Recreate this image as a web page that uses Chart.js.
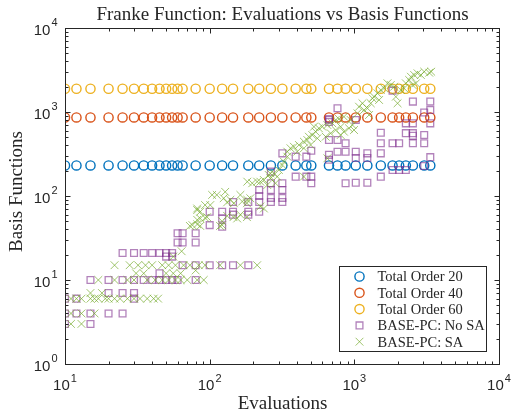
<!DOCTYPE html>
<html>
<head>
<meta charset="utf-8">
<script src="https://cdn.jsdelivr.net/npm/chart.js@4.4.0/dist/chart.umd.min.js"></script>
<style>
  html, body { margin: 0; padding: 0; background: #fff; }
  #wrap { width: 514px; height: 419px; position: relative; }
</style>
</head>
<body>
<div id="wrap"><canvas id="frankeChart"></canvas></div>
<script>
// evaluation counts used by the total order runs
const evaluations = [10, 12, 15, 20, 25, 30, 35, 40, 45, 50, 55, 60, 65, 80, 100, 122, 145, 185, 220, 265,
  318, 393, 466, 504, 668, 765, 870, 1023, 1230, 1524, 1837, 2040, 2270, 2540, 3040, 3350];

const orderLabels = ['Total Order 20', 'Total Order 40', 'Total Order 60'];
const orderBasis = [231, 861, 1891];

// [evaluations, basis functions]
const noSaPoints = [
  [10, 3], [15, 3],
  [10, 4], [12, 4], [15, 4], [20, 4], [25, 4],
  [10, 6], [12, 6], [30, 6],
  [20, 7], [25, 7], [30, 7],
  [15, 10], [20, 10], [25, 10], [30, 10], [35, 10], [40, 10], [45, 10], [50, 10], [55, 10], [60, 10], [80, 10],
  [45, 12], [50, 19], [55, 19],
  [25, 21], [30, 21], [35, 21], [40, 21], [45, 21], [50, 21], [55, 21],
  [60, 28], [65, 28], [80, 28], [60, 36], [65, 36], [80, 36],
  [65, 15], [80, 15], [100, 15], [122, 15], [145, 15], [185, 15],
  [100, 45], [122, 43], [122, 54],
  [100, 65], [122, 65], [145, 65], [145, 60], [185, 65], [185, 60], [220, 65],
  [145, 85], [185, 85], [220, 85], [265, 85], [318, 85],
  [220, 100], [265, 95], [318, 95],
  [220, 118], [265, 118], [318, 118], [265, 142], [318, 142], [265, 195],
  [393, 170], [466, 170], [504, 170], [504, 142],
  [318, 322], [393, 294], [466, 294], [504, 345],
  [668, 826], [668, 760], [668, 464], [765, 464], [668, 309], [668, 270],
  [765, 337], [870, 337], [1023, 337], [1230, 322], [870, 424],
  [870, 142], [1023, 144], [1230, 144],
  [765, 1106], [668, 804], [1023, 804],
  [1524, 567], [1524, 424], [1524, 322], [1524, 170],
  [1837, 424], [2040, 424], [2540, 424], [3040, 424],
  [2270, 733], [2540, 733], [3350, 733],
  [2270, 560], [2540, 560], [2540, 520], [3040, 533],
  [1837, 1795], [2540, 1330], [3350, 1330], [3350, 1057], [3040, 985],
  [1023, 283], [1230, 283], [3350, 290], [3040, 228],
  [1837, 204], [2040, 204], [2270, 204]
];

const saPoints = [
  [11, 3], [13, 3],
  [11, 4], [13, 4], [16, 4],
  [11, 6], [12, 6], [13, 6], [15, 6], [16, 6], [17, 6], [19, 6], [20, 6], [22, 6], [24, 6], [27, 6],
  [30, 6], [33, 6], [37, 6], [41, 6], [44, 6],
  [15, 7], [18, 7],
  [17, 10], [22, 10], [27, 10], [30, 10], [37, 10], [42, 10], [47, 10], [52, 10], [58, 10], [63, 10],
  [70, 10], [82, 10], [91, 10],
  [31, 12], [35, 12], [50, 12], [56, 12], [63, 12], [80, 13],
  [22, 15], [28, 15], [32, 15], [36, 15], [40, 15], [47, 15], [52, 15], [58, 15], [66, 15], [73, 15],
  [84, 15], [93, 15], [118, 15], [163, 15], [213, 15],
  [56, 19], [64, 22],
  [73, 44], [76, 45], [82, 46], [86, 44], [96, 56], [118, 44], [122, 45], [122, 50], [132, 58], [146, 56],
  [155, 54], [163, 60], [181, 56], [224, 75],
  [82, 52], [86, 54], [93, 55], [86, 65], [82, 68], [82, 71], [93, 78], [101, 78], [104, 103], [112, 103],
  [128, 112], [125, 94], [132, 84], [139, 90], [147, 82], [163, 103], [168, 86], [182, 90], [181, 82],
  [191, 94], [182, 148], [197, 142], [224, 148], [237, 71],
  [213, 148], [237, 155], [256, 178], [278, 186], [263, 162], [301, 204], [293, 170], [318, 234],
  [326, 256], [344, 337], [362, 370], [382, 386], [414, 405], [448, 443], [473, 464], [485, 508],
  [512, 532], [540, 583], [569, 640], [601, 668], [651, 700], [705, 733], [743, 803], [783, 826],
  [848, 879], [250, 135], [285, 142], [263, 186], [344, 294], [403, 337], [448, 370], [499, 405],
  [555, 486], [634, 508], [686, 558], [743, 610], [805, 668], [651, 281], [526, 668], [448, 170],
  [805, 532], [848, 583], [919, 640], [970, 700], [995, 610], [944, 803], [1051, 965], [1078, 1156],
  [1138, 1270], [1167, 1057], [1232, 1106], [1264, 921], [1299, 1270], [1335, 1455], [1369, 1521],
  [1445, 1670], [1483, 1390], [1524, 1828], [1607, 1915], [1695, 2196], [1786, 2096], [1884, 2000],
  [1936, 1521], [1990, 1270], [2097, 1828], [2209, 1915], [2270, 2196], [2393, 2404], [2460, 2630],
  [2593, 2757], [2735, 2888], [2884, 2757], [3041, 3018], [3294, 2937], [2665, 2196], [2527, 2096],
  [3400, 3018]
];

const xDecades = [1, 2, 3, 4];
const yDecades = [0, 1, 2, 3, 4];

const orderColors = ['#0072BD', '#D95319', '#EDB120'];
const AXIS = '#262626';
const SERIF = '"Liberation Serif", "Times New Roman", serif';

const datasets = orderLabels.map((label, i) => ({
  label: label,
  data: evaluations.map(e => ({ x: e, y: orderBasis[i] })),
  pointStyle: 'circle',
  pointRadius: 4.6,
  borderColor: orderColors[i],
  backgroundColor: 'rgba(0,0,0,0)',
  borderWidth: 1.4,
  order: 5 - i
}));

datasets.push({
  label: 'BASE-PC: No SA',
  data: noSaPoints.map(p => ({ x: p[0], y: p[1] })),
  pointStyle: 'rect',
  pointRadius: 4.8,
  borderColor: 'rgba(126, 47, 142, 0.6)',
  backgroundColor: 'rgba(0,0,0,0)',
  borderWidth: 1.3,
  order: 2
});

datasets.push({
  label: 'BASE-PC: SA',
  data: saPoints.map(p => ({ x: p[0], y: p[1] })),
  pointStyle: 'crossRot',
  pointRadius: 5.5,
  borderColor: 'rgba(119, 172, 48, 0.7)',
  backgroundColor: 'rgba(0,0,0,0)',
  borderWidth: 1,
  order: 1
});

function crisp(v) {
  return Math.round(v) + 0.5;
}

// box, inside ticks, 10^k labels, titles and legend in the MATLAB look
const matlabFrame = {
  id: 'matlabFrame',
  afterDraw(chart) {
    const { ctx, chartArea: a, scales } = chart;
    const x = scales.x, y = scales.y;
    const L = crisp(a.left), R = crisp(a.right), T = crisp(a.top), B = crisp(a.bottom);

    ctx.save();
    ctx.strokeStyle = AXIS;
    ctx.lineWidth = 1;
    ctx.strokeRect(L, T, R - L, B - T);

    ctx.beginPath();
    for (let d = xDecades[0]; d <= xDecades[xDecades.length - 1]; d++) {
      for (let m = 1; m <= 9; m++) {
        if (d === xDecades[xDecades.length - 1] && m > 1) break;
        const px = crisp(x.getPixelForValue(m * Math.pow(10, d)));
        const len = m === 1 ? 5 : 3;
        ctx.moveTo(px, B); ctx.lineTo(px, B - len);
        ctx.moveTo(px, T); ctx.lineTo(px, T + len);
      }
    }
    for (let d = yDecades[0]; d <= yDecades[yDecades.length - 1]; d++) {
      for (let m = 1; m <= 9; m++) {
        if (d === yDecades[yDecades.length - 1] && m > 1) break;
        const py = crisp(y.getPixelForValue(m * Math.pow(10, d)));
        const len = m === 1 ? 5 : 3;
        ctx.moveTo(L, py); ctx.lineTo(L + len, py);
        ctx.moveTo(R, py); ctx.lineTo(R - len, py);
      }
    }
    ctx.stroke();

    // tick labels
    ctx.fillStyle = AXIS;
    ctx.textBaseline = 'middle';
    const baseFont = '15px "Liberation Sans", Arial, sans-serif';
    const expFont = '11px "Liberation Sans", Arial, sans-serif';
    xDecades.forEach(d => {
      const px = x.getPixelForValue(Math.pow(10, d));
      ctx.font = baseFont;
      const w1 = ctx.measureText('10').width;
      ctx.font = expFont;
      const w2 = ctx.measureText(String(d)).width;
      const start = px - (w1 + w2 + 1) / 2;
      ctx.textAlign = 'left';
      ctx.font = baseFont;
      ctx.fillText('10', start, B + 21);
      ctx.font = expFont;
      ctx.fillText(String(d), start + w1 + 1, B + 14);
    });
    yDecades.forEach(d => {
      const py = y.getPixelForValue(Math.pow(10, d));
      ctx.font = expFont;
      const w2 = ctx.measureText(String(d)).width;
      ctx.textAlign = 'right';
      ctx.fillText(String(d), L - 8, py - 5);
      ctx.font = baseFont;
      ctx.fillText('10', L - 8 - w2 - 1, py + 3);
    });

    // title and axis names
    ctx.textAlign = 'center';
    ctx.textBaseline = 'alphabetic';
    ctx.font = '19px ' + SERIF;
    ctx.fillText('Franke Function: Evaluations vs Basis Functions', (L + R) / 2, 19.5);
    ctx.fillText('Evaluations', (L + R) / 2, 408.5);
    ctx.save();
    ctx.translate(22, 191.5);
    ctx.rotate(-Math.PI / 2);
    ctx.fillText('Basis Functions', 0, 0);
    ctx.restore();

    // legend box
    const boxL = 339.5, boxT = 266.5, boxW = 147, boxH = 85;
    ctx.fillStyle = '#ffffff';
    ctx.fillRect(boxL, boxT, boxW, boxH);
    ctx.strokeStyle = AXIS;
    ctx.lineWidth = 1;
    ctx.strokeRect(boxL, boxT, boxW, boxH);

    ctx.font = '14.5px ' + SERIF;
    ctx.textAlign = 'left';
    ctx.textBaseline = 'middle';
    chart.data.datasets.forEach((ds, i) => {
      const rowY = boxT + 10 + i * 16.3;
      const r = ds.pointRadius;
      const cx = boxL + 20;
      ctx.save();
      ctx.strokeStyle = ds.borderColor;
      ctx.lineWidth = ds.borderWidth;
      ctx.beginPath();
      if (ds.pointStyle === 'circle') {
        ctx.arc(cx, rowY, r, 0, Math.PI * 2);
      } else if (ds.pointStyle === 'rect') {
        const s = r * Math.SQRT1_2;
        ctx.rect(cx - s, rowY - s, 2 * s, 2 * s);
      } else {
        const s = r * Math.SQRT1_2;
        ctx.moveTo(cx - s, rowY - s); ctx.lineTo(cx + s, rowY + s);
        ctx.moveTo(cx - s, rowY + s); ctx.lineTo(cx + s, rowY - s);
      }
      ctx.stroke();
      ctx.restore();
      ctx.fillStyle = AXIS;
      ctx.fillText(ds.label, boxL + 38, rowY + 1);
    });
    ctx.restore();
  }
};

new Chart(document.getElementById('frankeChart'), {
  type: 'scatter',
  data: { datasets: datasets },
  options: {
    responsive: true,
    maintainAspectRatio: false,
    animation: false,
    events: [],
    layout: { padding: { left: 65, right: 15, top: 28, bottom: 55 } },
    plugins: {
      legend: { display: false },
      title: { display: false },
      tooltip: { enabled: false }
    },
    scales: {
      x: {
        type: 'logarithmic',
        min: 10,
        max: 10000,
        ticks: { display: false },
        grid: { display: false },
        border: { display: false },
        afterFit: s => { s.height = 0; }
      },
      y: {
        type: 'logarithmic',
        min: 1,
        max: 10000,
        ticks: { display: false },
        grid: { display: false },
        border: { display: false },
        afterFit: s => { s.width = 0; }
      }
    }
  },
  plugins: [matlabFrame]
});
</script>
</body>
</html>
